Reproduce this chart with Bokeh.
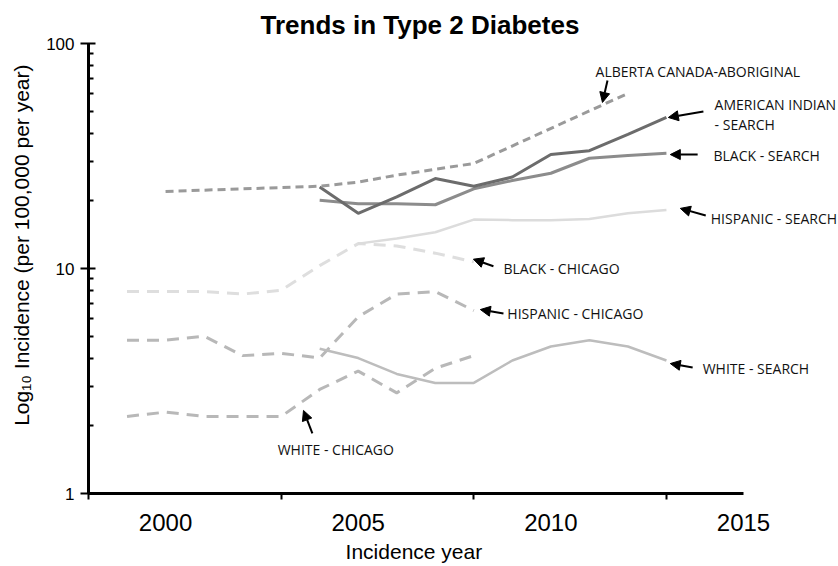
from bokeh.plotting import figure
from bokeh.models import FixedTicker, Label, Arrow, NormalHead, PrintfTickFormatter
from bokeh.embed import file_html
from bokeh.resources import INLINE

# ---------------- data ----------------
chicago_years = [1999, 2000, 2001, 2002, 2003, 2004, 2005, 2006, 2007, 2008]
black_chicago = [7.9, 7.9, 7.9, 7.7, 8.0, 10.3, 12.9, 12.6, 11.7, 10.7]
hispanic_chicago = [4.8, 4.8, 5.0, 4.1, 4.2, 4.0, 6.1, 7.7, 7.9, 6.5]
white_chicago = [2.2, 2.3, 2.2, 2.2, 2.2, 2.9, 3.5, 2.8, 3.6, 4.1]

search_years = [2004, 2005, 2006, 2007, 2008, 2009, 2010, 2011, 2012, 2013]
american_indian_search = [23.0, 17.6, 20.8, 25.1, 23.2, 25.5, 32.1, 33.4, 39.5, 46.9]
black_search = [20.1, 19.4, 19.4, 19.2, 22.6, 24.6, 26.5, 30.9, 31.8, 32.5]
white_search = [4.4, 4.0, 3.4, 3.1, 3.1, 3.9, 4.5, 4.8, 4.5, 3.9]

hispanic_search_years = [2005, 2006, 2007, 2008, 2009, 2010, 2011, 2012, 2013]
hispanic_search = [12.9, 13.6, 14.5, 16.5, 16.4, 16.4, 16.6, 17.6, 18.2]

alberta_years = [2000, 2004, 2005, 2006, 2007, 2008, 2012]
alberta_aboriginal = [22.0, 23.2, 24.2, 26.0, 27.6, 29.3, 60.0]

x_tick_labels = [2000, 2005, 2010, 2015]
x_tick_marks = [1998, 2003, 2008, 2013]
y_major = [1, 10, 100]
y_minor = [2, 3, 4, 5, 6, 7, 8, 9, 20, 30, 40, 50, 60, 70, 80, 90]

# annotation layout: text, label anchor (year, value), arrow start, arrow end
annotations = [
    ("ALBERTA CANADA-ABORIGINAL", (2011.16, 75.1), (2011.47, 68.5), (2011.34, 54.7)),
    ("AMERICAN INDIAN", (2014.25, 53.6), (2013.96, 49.9), (2013.05, 46.9)),
    (" - SEARCH", (2014.25, 43.6), None, None),
    ("BLACK - SEARCH", (2014.22, 31.8), (2013.81, 32.1), (2013.10, 32.1)),
    ("HISPANIC - SEARCH", (2014.15, 16.7), (2014.02, 17.2), (2013.36, 18.5)),
    ("BLACK - CHICAGO", (2008.77, 10.0), (2008.51, 10.24), (2007.99, 11.0)),
    ("HISPANIC - CHICAGO", (2008.87, 6.31), (2008.77, 6.31), (2008.17, 6.57)),
    ("WHITE - SEARCH", (2013.94, 3.59), (2013.68, 3.63), (2013.10, 3.78)),
    ("WHITE - CHICAGO", (2002.91, 1.57), (2003.81, 1.85), (2003.58, 2.34)),
]

AX_FONT = "Liberation Sans"
ANN_FONT = "Open Sans"
NBSP = "\u00a0"

W, H = 838, 566
LEFT, TOP, BOTTOM = 88, 43, 73
X0, X1 = 1998, 2015
AXIS_PX = 655  # pixel length of the drawn x axis (1998..2015)
x_end = X0 + (W - LEFT) / AXIS_PX * (X1 - X0)

p = figure(width=W, height=H, y_axis_type="log",
           x_range=(X0, x_end), y_range=(1, 100),
           output_backend="svg", toolbar_location=None,
           min_border_left=LEFT, min_border_right=0,
           min_border_top=TOP, min_border_bottom=BOTTOM,
           title="Trends in Type 2 Diabetes")
p.outline_line_color = None
p.grid.visible = False
p.background_fill_color = "white"
p.border_fill_color = "white"

p.title.align = "left"
p.title.offset = 172
p.title.text_font = AX_FONT
p.title.text_font_size = "26px"
p.title.text_font_style = "bold"
p.title.text_color = "black"
p.title.standoff = 8

# x axis
xa = p.xaxis[0]
xa.bounds = (X0, X1)
xa.ticker = FixedTicker(ticks=x_tick_labels, minor_ticks=x_tick_marks)
xa.major_tick_in = 0
xa.major_tick_out = 0
xa.minor_tick_in = 0
xa.minor_tick_out = 6
xa.minor_tick_line_width = 2
xa.minor_tick_line_color = "black"
xa.axis_line_width = 3
xa.axis_line_color = "black"
xa.major_label_text_font = AX_FONT
xa.major_label_text_font_size = "24px"
xa.major_label_text_color = "black"
xa.major_label_standoff = 14
# trailing no-break spaces keep the title centred under the drawn axis
xa.axis_label = "Incidence year" + NBSP * 17
xa.axis_label_text_font = AX_FONT
xa.axis_label_text_font_size = "21px"
xa.axis_label_text_font_style = "normal"
xa.axis_label_text_color = "black"
xa.axis_label_standoff = 6

# y axis
ya = p.yaxis[0]
ya.ticker = FixedTicker(ticks=y_major, minor_ticks=y_minor)
ya.formatter = PrintfTickFormatter(format="%d")
ya.major_tick_in = 7
ya.major_tick_out = 8
ya.minor_tick_in = 5
ya.minor_tick_out = 0
ya.major_tick_line_width = 2
ya.minor_tick_line_width = 2
ya.major_tick_line_color = "black"
ya.minor_tick_line_color = "black"
ya.axis_line_width = 3
ya.axis_line_color = "black"
ya.major_label_text_font = AX_FONT
ya.major_label_text_font_size = "17px"
ya.major_label_text_color = "black"
ya.major_label_standoff = 6
ya.axis_label = NBSP * 8 + "Log\u2081\u2080 Incidence (per 100,000 per year)"
ya.axis_label_text_font = AX_FONT
ya.axis_label_text_font_size = "21px"
ya.axis_label_text_font_style = "normal"
ya.axis_label_text_color = "black"
ya.axis_label_standoff = 10

# lines
p.line(chicago_years, black_chicago, line_color="#dedede", line_width=3, line_dash="12 8")
p.line(chicago_years, hispanic_chicago, line_color="#b8b8b8", line_width=3, line_dash="12 8")
p.line(chicago_years, white_chicago, line_color="#b8b8b8", line_width=3, line_dash="12 8")
p.line(hispanic_search_years, hispanic_search, line_color="#dcdcdc", line_width=2.5)
p.line(search_years, white_search, line_color="#bdbdbd", line_width=2.5)
p.line(search_years, black_search, line_color="#8c8c8c", line_width=3)
p.line(search_years, american_indian_search, line_color="#6c6c6c", line_width=3)
p.line(alberta_years, alberta_aboriginal, line_color="#9a9a9a", line_width=3, line_dash="8 5")

for text, (lx, ly), start, end in annotations:
    p.add_layout(Label(x=lx, y=ly, text=text, text_font=ANN_FONT,
                       text_font_size="14px", text_color="#111111",
                       text_baseline="middle", text_align="left"))
    if start is not None:
        p.add_layout(Arrow(x_start=start[0], y_start=start[1],
                           x_end=end[0], y_end=end[1],
                           line_width=2, line_color="black",
                           end=NormalHead(size=10, fill_color="black",
                                          line_color="black")))

open("out.html", "w").write(file_html(p, INLINE))
